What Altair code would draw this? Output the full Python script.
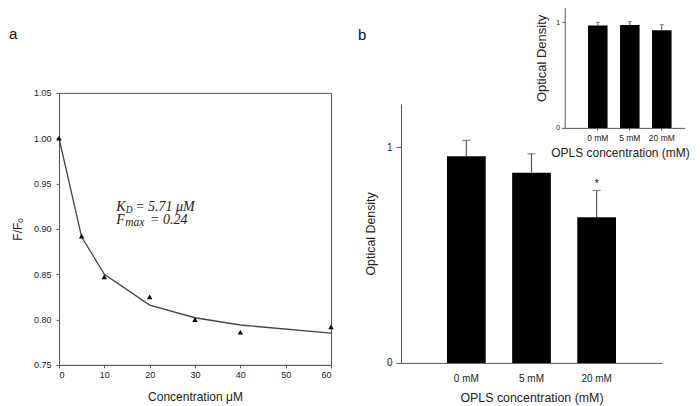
import altair as alt
import pandas as pd

# ---------------- data ----------------
# panel a: quenching curve
conc = [0, 5, 10, 20, 30, 40, 60]
ratio_obs = [1.000, 0.892, 0.847, 0.825, 0.800, 0.786, 0.792]
ratio_fit = [1.000, 0.891, 0.850, 0.816, 0.802, 0.794, 0.785]
x_ticks_a = [0, 10, 20, 30, 40, 50, 60]
y_ticks_a = [0.75, 0.80, 0.85, 0.90, 0.95, 1.00, 1.05]

# annotation (KD / Fmax), one row each
kd_parts = ["K", "D", "= 5.71 \u03bcM"]
fmax_parts = ["F", "max", "= 0.24"]
ann_x = [12.6, 12.6]
ann_y = [0.9194, 0.905]

# panel b: optical density bars
groups = ["0 mM", "5 mM", "20 mM"]
od_main = [0.958, 0.881, 0.675]
od_main_err = [0.073, 0.088, 0.124]
sig_marks = ["", "", "*"]
od_inset = [0.969, 0.975, 0.924]
od_inset_err = [0.031, 0.032, 0.054]

panel_labels = ["a", "b"]

FONT = "Liberation Sans"
SERIF = "Liberation Serif"
GREY = "#555555"
INK = "#222222"

# ---------------- panel a ----------------
df_a = pd.DataFrame({"c": conc, "obs": ratio_obs, "fit": ratio_fit})

x_scale_a = alt.Scale(domain=[0, 60], nice=False)
y_scale_a = alt.Scale(domain=[0.75, 1.05], nice=False, zero=False)
x_a = alt.X("c:Q", scale=x_scale_a,
            axis=alt.Axis(values=x_ticks_a, title="Concentration \u03bcM", tickSize=3,
                          labelFontSize=9, titleFontSize=12, labelPadding=3, titlePadding=12,
                          titleFontWeight="normal"))
y_axis_a = alt.Axis(values=y_ticks_a, format=".2f", title="F/F\u2092", tickSize=3,
                    labelFontSize=9, titleFontSize=12, labelPadding=5, titlePadding=9,
                    titleFontWeight="normal")

line_a = alt.Chart(df_a).mark_line(color="#444444", strokeWidth=1.3).encode(
    x=x_a, y=alt.Y("fit:Q", scale=y_scale_a, axis=y_axis_a))
pts_a = alt.Chart(df_a).mark_point(shape="triangle-up", filled=True, color="black",
                                   size=30, opacity=1).encode(
    x=x_a, y=alt.Y("obs:Q", scale=y_scale_a, axis=y_axis_a))


def ann_row(parts, i, sub_dx, sub_size, rest_dx):
    df = pd.DataFrame({"x": [ann_x[i]], "y": [ann_y[i]],
                       "m": [parts[0]], "s": [parts[1]], "r": [parts[2]]})
    base = alt.Chart(df).encode(x=alt.X("x:Q", scale=x_scale_a),
                                y=alt.Y("y:Q", scale=y_scale_a))
    common = dict(font=SERIF, fontStyle="italic", align="left", baseline="alphabetic", color=INK)
    return [
        base.mark_text(fontSize=14, **common).encode(text="m:N"),
        base.mark_text(fontSize=sub_size, dx=sub_dx, dy=2, **common).encode(text="s:N"),
        base.mark_text(fontSize=14, dx=rest_dx, **common).encode(text="r:N"),
    ]


ann_layers = ann_row(kd_parts, 0, 9.5, 9.5, 19) + ann_row(fmax_parts, 1, 9, 11.5, 34)

lab_a = alt.Chart(pd.DataFrame({"t": [panel_labels[0]]})).mark_text(
    font=FONT, fontSize=15, align="left", baseline="middle", color="#111").encode(
    text="t:N", x=alt.value(-50), y=alt.value(-59))

panel_a = alt.layer(line_a, pts_a, *ann_layers, lab_a).properties(
    width=272, height=272, view=alt.ViewBackground(stroke=GREY, strokeWidth=1))

# ---------------- panel b ----------------
df_b = pd.DataFrame({
    "g": groups,
    "m": od_main,
    "top": [m + e for m, e in zip(od_main, od_main_err)],
    "sig": sig_marks,
})
df_i = pd.DataFrame({
    "g": groups,
    "m": od_inset,
    "top": [m + e for m, e in zip(od_inset, od_inset_err)],
})

x_b = alt.X("g:N", sort=groups,
            scale=alt.Scale(paddingInner=0.406, paddingOuter=0.706),
            axis=alt.Axis(title="OPLS concentration (mM)", labelAngle=0, ticks=False,
                          labelFontSize=10, titleFontSize=12.4, labelPadding=11, titlePadding=8,
                          titleFontWeight="normal"))
y_scale_b = alt.Scale(domain=[0, 1.2], range=[270, 11], nice=False)
y_b = alt.Y("m:Q", scale=y_scale_b,
            axis=alt.Axis(values=[0, 1], format="d", title="Optical Density", tickSize=5,
                          labelFontSize=10, titleFontSize=12.4, labelPadding=4, titlePadding=9,
                          titleFontWeight="normal"))

bars_b = alt.Chart(df_b).mark_bar(color="black").encode(x=x_b, y=y_b)
err_b = alt.Chart(df_b).mark_rule(color=GREY, strokeWidth=1.2).encode(
    x=alt.X("g:N", sort=groups), y=alt.Y("m:Q"), y2="top:Q")
cap_b = alt.Chart(df_b).mark_tick(color=GREY, thickness=1.2, size=8).encode(
    x=alt.X("g:N", sort=groups), y=alt.Y("top:Q"))
sig_b = alt.Chart(df_b).mark_text(font=FONT, fontSize=11, baseline="alphabetic",
                                  dy=-3, color=INK).encode(
    x=alt.X("g:N", sort=groups), y=alt.Y("top:Q"), text="sig:N")
lab_b = alt.Chart(pd.DataFrame({"t": [panel_labels[1]]})).mark_text(
    font=FONT, fontSize=15, align="left", baseline="middle", color="#111").encode(
    text="t:N", x=alt.value(-43), y=alt.value(-58))

main_b = alt.layer(bars_b, err_b, cap_b, sig_b, lab_b)

x_i = alt.X("g:N", sort=groups,
            scale=alt.Scale(range=[163.7, 283.7], paddingInner=0.39, paddingOuter=0.57, align=0.64),
            axis=alt.Axis(orient="bottom", offset=-235, title="OPLS concentration (mM)",
                          labelAngle=0, tickSize=2, labelFontSize=8.5, titleFontSize=12,
                          labelPadding=4, titlePadding=5, titleX=219, titleFontWeight="normal"))
y_i = alt.Y("m:Q",
            scale=alt.Scale(domain=[0, 1.2], range=[35, -91.7], nice=False),
            axis=alt.Axis(orient="left", offset=-163.7, values=[0, 1], format="d",
                          title="Optical Density", tickSize=3, labelFontSize=7.5,
                          titleFontSize=13, labelPadding=2, titlePadding=7, titleY=-35,
                          titleFontWeight="normal"))

bars_i = alt.Chart(df_i).mark_bar(color="black").encode(x=x_i, y=y_i)
err_i = alt.Chart(df_i).mark_rule(color=GREY, strokeWidth=1).encode(
    x=alt.X("g:N", sort=groups), y=alt.Y("m:Q"), y2="top:Q")
cap_i = alt.Chart(df_i).mark_tick(color=GREY, thickness=1, size=4).encode(
    x=alt.X("g:N", sort=groups), y=alt.Y("top:Q"))

inset_b = alt.layer(bars_i, err_i, cap_i)

panel_b = alt.layer(main_b, inset_b).resolve_scale(
    x="independent", y="independent").properties(width=261, height=270)

chart = alt.hconcat(panel_a, panel_b, spacing=70, bounds="flush").properties(
    padding={"top": 4.9, "left": 0, "right": 0, "bottom": 0},
    background="white",
).configure_view(stroke="transparent").configure_axis(
    labelFont=FONT, titleFont=FONT, labelColor=INK, titleColor=INK,
    domainColor=GREY, tickColor=GREY, titleFontWeight="normal", grid=False
)

chart.save("out.html", embed_options={"renderer": "svg", "actions": False})
